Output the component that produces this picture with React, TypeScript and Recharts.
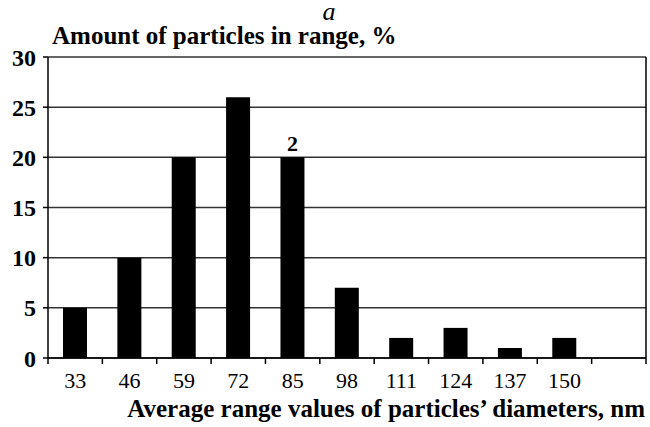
import React from 'react';
import { BarChart, Bar, XAxis, YAxis, CartesianGrid, LabelList } from 'recharts';

const categories = ['33', '46', '59', '72', '85', '98', '111', '124', '137', '150', ''];
const amounts = [5, 10, 20, 26, 20, 7, 2, 3, 1, 2, null];
const barLabels = ['', '', '', '', '2', '', '', '', '', '', ''];
const yTicks = [0, 5, 10, 15, 20, 25, 30];

const data = categories.map((c, i) => ({ d: c, v: amounts[i], lbl: barLabels[i] }));

const SERIF = 'Liberation Serif, DejaVu Serif';

const XTick = (props: any) => {
  const { x, y, payload, index, width } = props;
  const half = payload && payload.offset ? payload.offset : width / categories.length / 2;
  return (
    <g>
      <line x1={x - half} x2={x - half} y1={y} y2={y + 6} stroke="#000" strokeWidth={1.5} />
      {index === categories.length - 1 && (
        <line x1={x + half} x2={x + half} y1={y} y2={y + 6} stroke="#000" strokeWidth={1.5} />
      )}
      <text x={x} y={y + 30} textAnchor="middle" style={{ fontFamily: SERIF }} fontSize={22} fill="#000">
        {payload.value}
      </text>
    </g>
  );
};

export default function App() {
  return (
    <div style={{ position: 'absolute', left: 0, top: 0, width: 650, height: 427, background: '#fff', fontFamily: SERIF }}>
      <BarChart width={650} height={427} data={data} margin={{ top: 57, right: 3, bottom: 0, left: 0 }} style={{ fontFamily: SERIF }}>
        <CartesianGrid vertical={false} stroke="#333" strokeWidth={1.5} />
        <XAxis
          dataKey="d"
          tickLine={false}
          tickSize={0}
          tickMargin={0}
          axisLine={{ stroke: '#000', strokeWidth: 1.5 }}
          tick={<XTick />}
          interval={0}
          height={69}
        />
        <YAxis
          domain={[0, 30]}
          ticks={yTicks}
          width={48}
          tickSize={5}
          tickMargin={7}
          axisLine={{ stroke: '#000', strokeWidth: 1.5 }}
          tickLine={{ stroke: '#000', strokeWidth: 1.5 }}
          tick={{ fontSize: 24, fontWeight: 'bold', fill: '#000', style: { fontFamily: SERIF } }}
          interval={0}
        />
        <YAxis
          yAxisId="r"
          orientation="right"
          domain={[0, 30]}
          width={1}
          tick={false}
          tickLine={false}
          axisLine={{ stroke: '#000', strokeWidth: 1.5 }}
        />
        <Bar dataKey="v" fill="#000" barSize={24} isAnimationActive={false}>
          <LabelList dataKey="lbl" position="top" offset={6} style={{ fontFamily: SERIF }} fontSize={22} fontWeight="bold" fill="#000" />
        </Bar>
        <text x={329} y={20} textAnchor="middle" style={{ fontFamily: SERIF }} fontStyle="italic" fontSize={26} fill="#000">a</text>
        <text x={52} y={44} textAnchor="start" style={{ fontFamily: SERIF }} fontWeight="bold" fontSize={25} fill="#000">
          Amount of particles in range, %
        </text>
        <text x={645} y={417} textAnchor="end" style={{ fontFamily: SERIF }} fontWeight="bold" fontSize={25} fill="#000">
          Average range values of particles’ diameters, nm
        </text>
      </BarChart>
    </div>
  );
}
